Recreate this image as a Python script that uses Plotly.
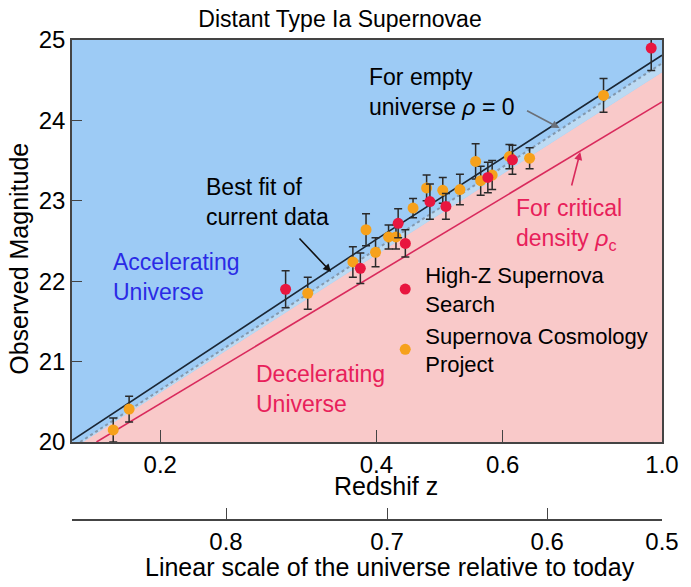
import numpy as np
import plotly.graph_objects as go

# axis ranges
z_range = [0.1507, 1.0]
mag_range = [20, 25]
z_ticks = [0.2, 0.4, 0.6, 1.0]
scale_ticks = [0.8, 0.7, 0.6, 0.5]          # a, relative size of the universe
scale_tick_z = [0.247, 0.414, 0.692, 1.0]   # where the figure puts those ticks on z

# Supernova Cosmology Project (orange)
scp_z = [0.172, 0.181, 0.321, 0.371, 0.387, 0.399, 0.416, 0.426, 0.450,
         0.470, 0.495, 0.523, 0.550, 0.559, 0.580, 0.613, 0.654, 0.829]
scp_mag = [20.15, 20.41, 21.85, 22.24, 22.64, 22.36, 22.55, 22.55, 22.91,
           23.16, 23.13, 23.14, 23.49, 23.25, 23.32, 23.55, 23.53, 24.31]
scp_err = [0.15, 0.16, 0.20, 0.19, 0.20, 0.18, 0.15, 0.15, 0.12,
           0.16, 0.16, 0.19, 0.22, 0.18, 0.18, 0.15, 0.13, 0.21]

# High-Z Supernova Search (red)
hz_z = [0.299, 0.380, 0.429, 0.439, 0.475, 0.500, 0.572, 0.619, 0.966]
hz_mag = [21.90, 22.16, 22.72, 22.47, 22.99, 22.93, 23.29, 23.51, 24.90]
hz_err = [0.23, 0.19, 0.18, 0.17, 0.22, 0.16, 0.19, 0.18, 0.28]

# model curves
fit_z = [0.1508, 0.4, 1.0]
fit_mag = [20.02, 22.52, 24.81]
empty_z = [0.1547, 1.0]
empty_mag = [20.0, 24.71]
edge_z = [0.1561, 1.0]          # accelerating / decelerating boundary
edge_mag = [20.0, 24.60]
crit_z = [0.163, 1.0]
crit_mag = [20.0, 24.23]

BLUE = "#9dcbf5"
PINK = "#f9c9c9"
BAND = "#bcdaf3"
RED = "#e8163f"
ORANGE = "#f6a11c"
REDLINE = "#d92a5c"
REDTEXT = "#e8205a"
FONT = "Liberation Sans, Arial, sans-serif"

# the page body has an 8px margin, so the figure is drawn 8px in from the corner
W, H = 691 - 8, 587 - 8

fig = go.Figure()

# blue region above the boundary (plot background is pink)
fig.add_trace(go.Scatter(
    x=[z_range[0], edge_z[0], edge_z[1], z_range[1], z_range[0]],
    y=[mag_range[0], edge_mag[0], edge_mag[1], mag_range[1], mag_range[1]],
    fill="toself", fillcolor=BLUE, mode="lines", line_width=0,
    hoverinfo="skip", showlegend=False))
fig.add_trace(go.Scatter(
    x=[empty_z[0], empty_z[1], edge_z[1], edge_z[0]],
    y=[empty_mag[0], empty_mag[1], edge_mag[1], edge_mag[0]],
    fill="toself", fillcolor=BAND, mode="lines", line_width=0,
    hoverinfo="skip", showlegend=False))

fig.add_trace(go.Scatter(x=crit_z, y=crit_mag, mode="lines",
                         line=dict(color=REDLINE, width=1.6), showlegend=False))
fig.add_trace(go.Scatter(x=empty_z, y=empty_mag, mode="lines",
                         line=dict(color="#8398ad", width=2, dash="dot"), showlegend=False))
fig.add_trace(go.Scatter(x=fit_z, y=fit_mag, mode="lines",
                         line=dict(color="#1b2735", width=1.6), showlegend=False))

errstyle = dict(type="data", thickness=1.5, width=4, color="#2a2a2a")
fig.add_trace(go.Scatter(
    x=scp_z, y=scp_mag, mode="markers", name="Supernova Cosmology<br>Project",
    marker=dict(color=ORANGE, size=11), error_y=dict(array=scp_err, **errstyle),
    legendrank=2))
fig.add_trace(go.Scatter(
    x=hz_z, y=hz_mag, mode="markers", name="High-Z Supernova<br>Search",
    marker=dict(color=RED, size=11), error_y=dict(array=hz_err, **errstyle),
    legendrank=1))

# invisible trace so the second (scale factor) axis is drawn
fig.add_trace(go.Scatter(x=[z_range[1]], y=[mag_range[0]], xaxis="x2",
                         mode="markers", marker_opacity=0,
                         hoverinfo="skip", showlegend=False))


# window pixel -> paper fraction (plot area spans x 72..671, paper y 40..520)
def px(x):
    return (x - 72) / 599


def py(y):
    return (520 - y) / 480


texts = [
    ("Accelerating<br>Universe", 112, 277, "#2a2ae6"),
    ("Decelerating<br>Universe", 257, 389, REDTEXT),
    ("Best fit of<br>current data", 206, 202, "black"),
    ("For empty<br>universe <i>ρ</i> = 0", 371, 92, "black"),
    ("For critical<br>density <i>ρ</i><sub>c</sub>", 521, 225, REDTEXT),
]
annotations = []
for t, x, y, c in texts:
    annotations.append(dict(text=t, x=px(x), y=py(y), xref="paper", yref="paper",
                            xanchor="left", yanchor="middle", align="left",
                            showarrow=False, font=dict(size=23, color=c)))

arrows = [
    (335, 272, -33, -35, "#111111"),
    (567, 128, -34, -18, "#6b7078"),
    (588, 152, -9, 35, REDLINE),
]
for x, y, ax, ay, c in arrows:
    annotations.append(dict(text="", x=px(x), y=py(y), xref="paper", yref="paper",
                            ax=ax, ay=ay, showarrow=True, arrowhead=2,
                            arrowsize=1, arrowwidth=1.6, arrowcolor=c))

axis_title = dict(xref="paper", yref="paper", showarrow=False,
                  xanchor="center", yanchor="middle", font=dict(size=25))
annotations += [
    dict(text="Redshif z", x=px(391), y=py(486), **axis_title),
    dict(text="Linear scale of the universe relative to today", x=px(395),
         y=py(567), **axis_title),
    dict(text="Observed Magnitude", x=px(18), y=py(259), textangle=-90, **axis_title),
]

fig.update_layout(
    width=W, height=H,
    margin=dict(l=72 - 8, r=W - (671 - 8), t=40 - 8, b=H - (520 - 8)),
    paper_bgcolor="white", plot_bgcolor=PINK,
    font=dict(family=FONT, size=23, color="black"),
    title=dict(text="Distant Type Ia Supernovae", x=(340 - 8) / W, xanchor="center",
               y=1 - (19 - 8) / H, yanchor="middle", font=dict(size=23)),
    showlegend=True,
    legend=dict(x=px(390), y=py(254), xanchor="left", yanchor="top",
                bgcolor="rgba(0,0,0,0)", font=dict(size=22), valign="middle",
                tracegroupgap=0),
    annotations=annotations,
    xaxis=dict(type="log", range=list(np.log10(z_range)), tickvals=z_ticks,
               ticktext=[f"{v:.1f}" for v in z_ticks], ticks="inside", ticklen=12,
               tickcolor="#444", showline=True, linecolor="#444", linewidth=1.5,
               mirror=True, showgrid=False, zeroline=False, tickfont=dict(size=24)),
    xaxis2=dict(type="log", range=list(np.log10(z_range)), overlaying="x",
                anchor="free", position=0, side="bottom",
                tickvals=scale_tick_z,
                ticktext=[f"{a:.1f}" for a in scale_ticks], ticks="inside",
                ticklen=11, tickcolor="#444", showline=True, linecolor="#444",
                linewidth=1.5, showgrid=False, zeroline=False, tickfont=dict(size=24)),
    yaxis=dict(domain=[(520 - 442) / 480, 1], range=mag_range, dtick=1,
               ticks="inside", ticklen=10, tickcolor="#444", showline=True,
               linecolor="#444", linewidth=1.5, mirror=True, showgrid=False,
               zeroline=False, tickfont=dict(size=24)),
)

fig.write_html("out.html")
